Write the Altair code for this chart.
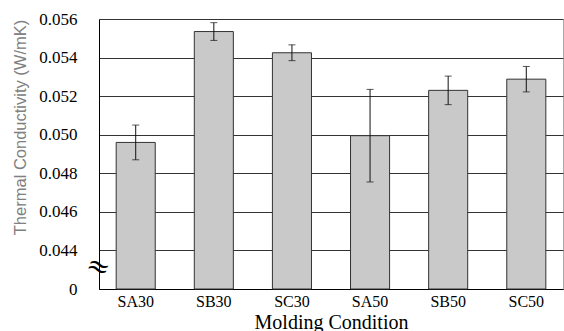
import altair as alt
import pandas as pd

conditions = ["SA30", "SB30", "SC30", "SA50", "SB50", "SC50"]
means = [0.04960, 0.05535, 0.05425, 0.04995, 0.05230, 0.05288]
errors = [0.00090, 0.00046, 0.00041, 0.00240, 0.00074, 0.00066]
y_ticks = [0.042, 0.044, 0.046, 0.048, 0.050, 0.052, 0.054, 0.056]
break_level = 0.0431

df = pd.DataFrame({"condition": conditions, "mean": means, "err": errors})
df["lo"] = df["mean"] - df["err"]
df["hi"] = df["mean"] + df["err"]

yscale = alt.Scale(domain=[y_ticks[0], y_ticks[-1]], zero=False, nice=False)
xscale = alt.Scale(paddingInner=0.5, paddingOuter=0.22)

x_axis = alt.Axis(title="Molding Condition", labelAngle=0, titleY=39)

y_axis = alt.Axis(
    values=y_ticks,
    labelExpr="datum.value < 0.043 ? '0' : format(datum.value, '.3f')",
    title="Thermal Conductivity (W/mK)",
    titleX=-74,
    titleY=108,
)

x_enc = alt.X("condition:N", sort=conditions, scale=xscale, axis=x_axis)


def y_enc(field):
    return alt.Y(field, scale=yscale, axis=y_axis)


base = alt.Chart(df)

bars = base.mark_bar(fill="#c9c9c9", stroke="#333333", strokeWidth=1).encode(
    x=x_enc,
    y=y_enc("mean:Q"),
    y2=alt.datum(y_ticks[0]),
)

rules = base.mark_rule(color="#111111", strokeWidth=1).encode(
    x=x_enc,
    y=y_enc("lo:Q"),
    y2="hi:Q",
)

caps_lo = base.mark_tick(color="#111111", size=7, thickness=1).encode(
    x=x_enc,
    y=y_enc("lo:Q"),
)
caps_hi = base.mark_tick(color="#111111", size=7, thickness=1).encode(
    x=x_enc,
    y=y_enc("hi:Q"),
)

brk = alt.Chart(pd.DataFrame({"s": ["≈"]})).mark_text(
    font="DejaVu Serif", fontSize=28, angle=20, color="black"
).encode(
    text="s:N",
    x=alt.value(-1),
    y=alt.YDatum(break_level, scale=yscale, axis=y_axis),
)

chart = (
    alt.layer(bars, rules, caps_lo, caps_hi, brk)
    .properties(
        width=464,
        height=270,
        autosize=alt.AutoSizeParams(type="none"),
        padding={"left": 99, "top": 19, "right": 1, "bottom": 42},
        background="white",
    )
    .configure_view(stroke="#aaaaaa", strokeWidth=1)
    .configure_axisX(
        labelFont="Liberation Serif",
        labelFontSize=16,
        labelColor="black",
        labelPadding=4,
        ticks=False,
        domainColor="black",
        domainWidth=1,
        grid=False,
        titleFont="Liberation Serif",
        titleFontSize=20,
        titleFontWeight="normal",
        titleColor="black",
        titleBaseline="alphabetic",
    )
    .configure_axisY(
        labelFont="Liberation Serif",
        labelFontSize=17,
        labelColor="black",
        labelPadding=22,
        labelOverlap=False,
        ticks=False,
        domainColor="black",
        domainWidth=1,
        grid=True,
        gridColor="#333333",
        gridWidth=1,
        titleFont="Liberation Sans",
        titleFontSize=16.5,
        titleFontWeight="normal",
        titleColor="#808080",
        titleAngle=270,
        titleAlign="center",
        titleBaseline="alphabetic",
    )
)

chart.save("out.html", embed_options={"renderer": "svg", "actions": False})
